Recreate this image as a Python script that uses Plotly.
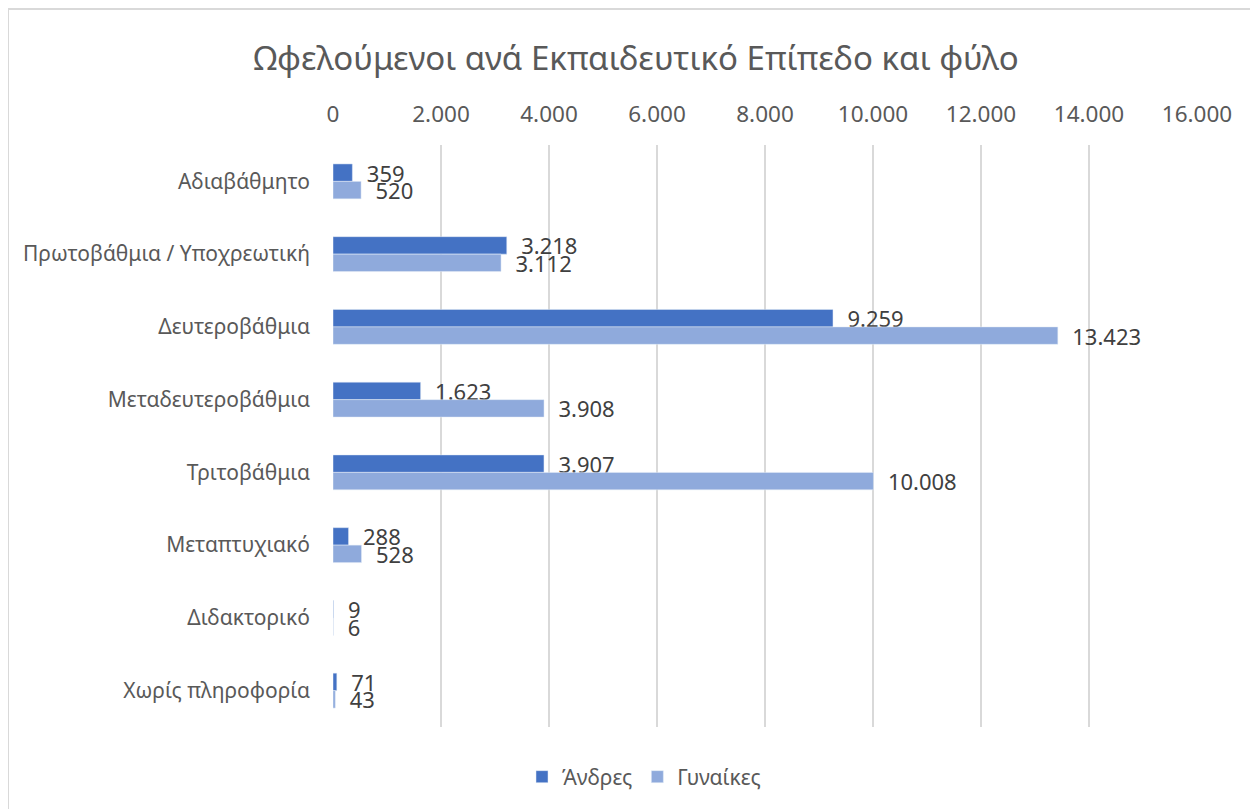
import plotly.graph_objects as go

categories = ["Αδιαβάθμητο", "Πρωτοβάθμια / Υποχρεωτική", "Δευτεροβάθμια",
              "Μεταδευτεροβάθμια", "Τριτοβάθμια", "Μεταπτυχιακό", "Διδακτορικό",
              "Χωρίς πληροφορία"]
men = [359, 3218, 9259, 1623, 3907, 288, 9, 71]
women = [520, 3112, 13423, 3908, 10008, 528, 6, 43]
tick_vals = [0, 2000, 4000, 6000, 8000, 10000, 12000, 14000, 16000]

# page has an 8px body margin; figure coordinates are page - 8
W, H = 1250, 801
ML, MT = 325, 137
pw, ph = 864, 582
MR = W - ML - pw
MB = H - MT - ph

fig = go.Figure()
for name, vals, col in [("Άνδρες", men, "#4472C4"), ("Γυναίκες", women, "#8FAADC")]:
    fig.add_trace(go.Bar(y=categories, x=vals, name=name, orientation="h",
                         marker_color=col, texttemplate="\u00a0\u00a0%{x:,d}",
                         textposition="outside", cliponaxis=False,
                         constraintext="none",
                         textfont=dict(size=22, color="#404040")))

fig.update_layout(
    width=W, height=H,
    margin=dict(l=ML, r=MR, t=MT, b=MB, autoexpand=False),
    paper_bgcolor="white", plot_bgcolor="white",
    font=dict(family="Noto Sans", color="#595959"),
    separators=",.",
    barmode="group", bargap=0.52, bargroupgap=0,
    title=dict(text="Ωφελούμενοι ανά Εκπαιδευτικό Επίπεδο και φύλο",
               x=(636 - 8) / W, xanchor="center", y=1 - 50 / H, yanchor="middle",
               font=dict(size=33, color="#595959")),
    xaxis=dict(side="top", range=[0, 16000], tickvals=tick_vals,
               tickformat=",d", showgrid=True, gridcolor="#D9D9D9",
               gridwidth=2, zeroline=False, showline=False, ticks="",
               ticklabelstandoff=18,
               tickfont=dict(size=22.5, color="#595959")),
    yaxis=dict(autorange="reversed", showgrid=False, showline=False,
               ticks="", ticklabelstandoff=22,
               tickfont=dict(size=21, color="#595959")),
    legend=dict(orientation="h", x=(644 - 8 - ML) / pw, xanchor="center",
                y=-(769 - (H - MB)) / ph, yanchor="middle",
                font=dict(size=21, color="#595959")),
)
fig.add_shape(type="rect", xref="paper", yref="paper",
              x0=(0 - ML) / pw, x1=(1260 - ML) / pw,
              y0=(H - MB - 820) / ph, y1=(H - MB - 1) / ph,
              line=dict(color="#D9D9D9", width=2), fillcolor="rgba(0,0,0,0)",
              layer="below")
fig.write_html("out.html")
